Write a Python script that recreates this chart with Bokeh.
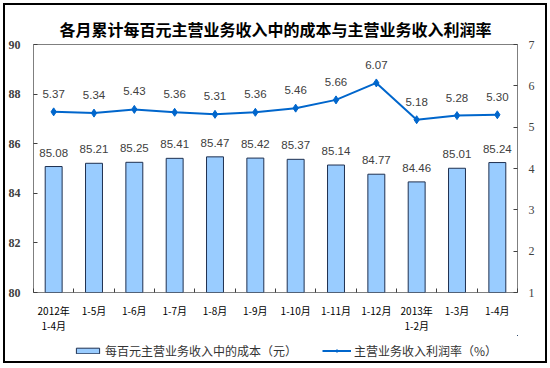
from bokeh.plotting import figure
from bokeh.layouts import column
from bokeh.models import Range1d, LinearAxis, FixedTicker, Legend, LegendItem, ColumnDataSource
from bokeh.embed import file_html
from bokeh.resources import INLINE

title = "各月累计每百元主营业务收入中的成本与主营业务收入利润率"
months = ["2012年\n1-4月", "1-5月", "1-6月", "1-7月", "1-8月", "1-9月", "1-10月",
          "1-11月", "1-12月", "2013年\n1-2月", "1-3月", "1-4月"]
cost = [85.08, 85.21, 85.25, 85.41, 85.47, 85.42, 85.37, 85.14, 84.77, 84.46, 85.01, 85.24]
margin = [5.37, 5.34, 5.43, 5.36, 5.31, 5.36, 5.46, 5.66, 6.07, 5.18, 5.28, 5.30]
cost_label = "每百元主营业务收入中的成本（元）"
margin_label = "主营业务收入利润率（%）"
left_ticks = [80, 82, 84, 86, 88, 90]
right_ticks = [1, 2, 3, 4, 5, 6, 7]

BAR_FILL, BAR_LINE, LINE_COLOR = "#99CCFF", "#1F3050", "#0066CC"

x = list(range(1, len(months) + 1))
src = ColumnDataSource(dict(
    x=x, cost=cost, margin=margin,
    cost_txt=[f"{v:.2f}" for v in cost],
    margin_txt=[f"{v:.2f}" for v in margin],
))

p = figure(width=540, height=330, x_range=Range1d(0.5, len(months) + 0.5),
           y_range=Range1d(left_ticks[0], left_ticks[-1]),
           output_backend="svg", toolbar_location=None,
           min_border_left=28, min_border_right=28, min_border_top=39, min_border_bottom=33)
p.extra_y_ranges = {"r": Range1d(right_ticks[0], right_ticks[-1])}

p.title.text = title
p.title.align = "center"
p.title.text_font = "Noto Sans CJK SC"
p.title.text_font_size = "16px"
p.title.text_font_style = "bold"
p.title.text_color = "#000000"
p.title.standoff = 8

p.grid.visible = False
p.outline_line_color = "#7F7F7F"
p.outline_line_width = 1
p.background_fill_color = "white"
p.border_fill_color = "white"

xa = p.xaxis[0]
xa.ticker = FixedTicker(ticks=x, minor_ticks=[i + 0.5 for i in range(0, len(months) + 1)])
xa.major_label_overrides = {i: m for i, m in zip(x, months)}
xa.major_tick_line_color = None
xa.minor_tick_in = 4
xa.minor_tick_out = 0
xa.minor_tick_line_color = "#404040"
xa.axis_line_color = None
xa.major_label_standoff = 4
xa.major_label_text_font = "Noto Sans CJK SC"
xa.major_label_text_font_size = "10px"
xa.major_label_text_line_height = 1.0
xa.major_label_text_color = "#000000"

ya = p.yaxis[0]
ya.ticker = FixedTicker(ticks=left_ticks)
ya.major_tick_in = 4
ya.major_tick_out = 0
ya.minor_tick_line_color = None
ya.major_tick_line_color = "#404040"
ya.axis_line_color = None
ya.major_label_standoff = 13
ya.major_label_text_font = "Liberation Serif"
ya.major_label_text_font_size = "12px"
ya.major_label_text_font_style = "bold"
ya.major_label_text_color = "#404040"

ra = LinearAxis(y_range_name="r", ticker=FixedTicker(ticks=right_ticks))
ra.major_tick_in = 4
ra.major_tick_out = 0
ra.minor_tick_line_color = None
ra.major_tick_line_color = "#404040"
ra.axis_line_color = None
ra.major_label_standoff = 11
ra.major_label_text_font = "Liberation Serif"
ra.major_label_text_font_size = "12px"
ra.major_label_text_color = "#404040"
p.add_layout(ra, "right")

p.vbar(x="x", top="cost", bottom=left_ticks[0], width=0.42, source=src,
       fill_color=BAR_FILL, line_color=BAR_LINE, line_width=1)
p.text(x="x", y="cost", text="cost_txt", source=src, y_offset=-14,
       text_align="center", text_baseline="middle", text_font_size="11.5px",
       text_font={"value": "Liberation Sans"}, text_color="#404040")

p.line(x="x", y="margin", source=src, y_range_name="r", line_color=LINE_COLOR, line_width=2)
p.scatter(x="x", y="margin", source=src, y_range_name="r", marker="diamond", size=8,
          fill_color=LINE_COLOR, line_color=LINE_COLOR)
p.text(x="x", y="margin", text="margin_txt", source=src, y_range_name="r", y_offset=-18,
       text_align="center", text_baseline="middle", text_font_size="11.5px",
       text_font={"value": "Liberation Sans"}, text_color="#404040")

# legend strip below the chart: same series, ranges set so only the legend shows
leg = figure(width=540, height=26, output_backend="svg", toolbar_location=None,
             x_range=Range1d(-2, -1), y_range=Range1d(-2, -1),
             x_axis_type=None, y_axis_type=None, min_border=0)
leg.grid.visible = False
leg.outline_line_color = None
leg.background_fill_color = "white"
leg.border_fill_color = "white"
lb = leg.vbar(x="x", top="cost", width=0.42, source=src,
              fill_color=BAR_FILL, line_color=BAR_LINE, line_width=1)
ll = leg.line(x="x", y="margin", source=src, line_color=LINE_COLOR, line_width=2)
ls = leg.scatter(x="x", y="margin", source=src, marker="diamond", size=8,
                 fill_color=LINE_COLOR, line_color=LINE_COLOR)
legend = Legend(items=[LegendItem(label=cost_label, renderers=[lb]),
                       LegendItem(label=margin_label, renderers=[ll, ls])],
                orientation="horizontal", location=(40, 2),
                glyph_width=29, glyph_height=7, spacing=25, padding=0, margin=0,
                label_text_font="Noto Sans CJK SC", label_text_font_size="12px",
                label_text_color="#333333",
                label_standoff=3, border_line_color=None, background_fill_alpha=0)
leg.add_layout(legend)

layout = column(p, leg, spacing=0)
layout.styles = {"margin-left": "5px", "margin-top": "5px",
                 "outline": "2px solid black", "outline-offset": "0px"}

open("out.html", "w").write(file_html(layout, INLINE))
